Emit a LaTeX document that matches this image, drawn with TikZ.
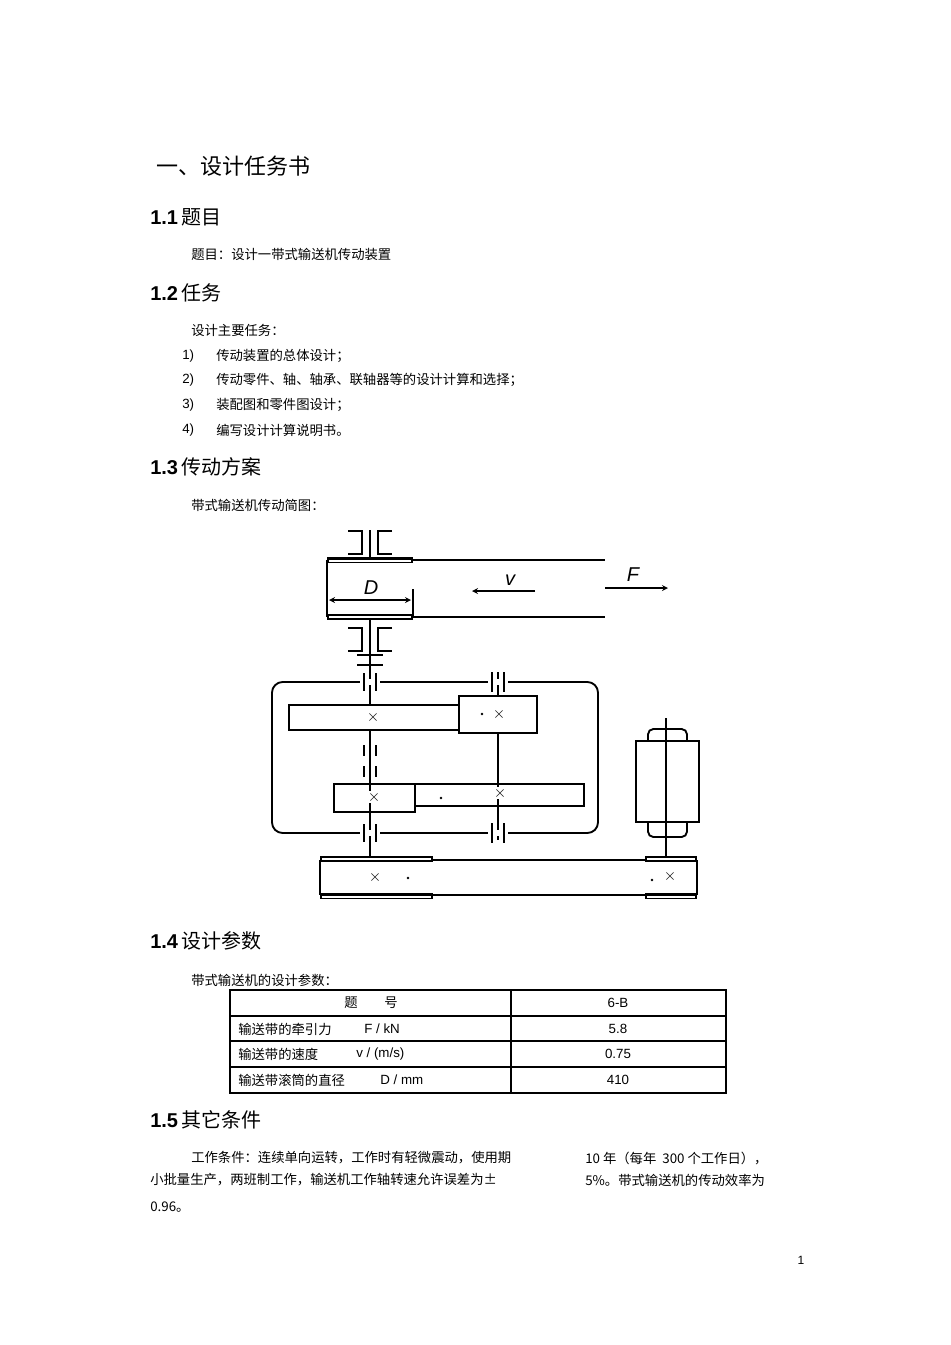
\documentclass[tikz,border=0pt]{standalone}
\usepackage{fontspec}
\setmainfont{Liberation Sans}
\newfontfamily\cjk{Noto Sans CJK SC}
\begin{document}
\begin{tikzpicture}[x=0.75pt,y=-0.75pt,
  body/.style={anchor=west,inner sep=0pt,font=\cjk\fontsize{10}{12}\selectfont},
  head/.style={anchor=west,inner sep=0pt,font=\fontsize{15}{18}\selectfont},
  ln/.style={line width=1.4pt},
  thin/.style={line width=1pt}]
\useasboundingbox (0,0) rectangle (950,1345);
\fill[white] (0,0) rectangle (950,1345);
% ---------- text ----------
\node[anchor=west,inner sep=0pt,font=\cjk\fontsize{16.5}{20}\selectfont] (t0) at (156,166) {一、设计任务书};
\node[head] (h1) at (150,217) {\textbf{1.1}\,{\cjk 题目}};
\node[body] (p1) at (191,254) {题目：设计一带式输送机传动装置};
\node[head] (h2) at (150,293) {\textbf{1.2}\,{\cjk 任务}};
\node[body] (p2) at (191,330) {设计主要任务：};
\foreach \n/\yy/\s in {1/356/传动装置的总体设计；,2/380/传动零件、轴、轴承、联轴器等的设计计算和选择；,3/405/装配图和零件图设计；,4/430/编写设计计算说明书。}{
  \node[anchor=west,inner sep=0pt,font=\fontsize{10}{12}\selectfont] (n\n) at (182,\yy) {\n)};
  \node[body] (i\n) at (216,\yy) {\s};
}
\node[head] (h3) at (150,467) {\textbf{1.3}\,{\cjk 传动方案}};
\node[body] (p3) at (191,505) {带式输送机传动简图：};
\node[head] (h4) at (150,941) {\textbf{1.4}\,{\cjk 设计参数}};
\node[body] (p4) at (191,980) {带式输送机的设计参数：};
% table
\draw[thin] (230,990) rectangle (726,1093);
\foreach \yy in {1016,1041,1067} \draw[thin] (230,\yy) -- (726,\yy);
\draw[thin] (511,990) -- (511,1093);
\node[body,anchor=center] (c1) at (371,1003) {题\hspace{2em}号};
\node[anchor=center,font=\fontsize{10}{12}\selectfont] (d1) at (618,1003) {6-B};
\node[body] (c2) at (238,1029) {输送带的牵引力};
\node[anchor=west,inner sep=0pt,font=\fontsize{10}{12}\selectfont] (e2) at (364,1029) {F / kN};
\node[anchor=center,font=\fontsize{10}{12}\selectfont] (d2) at (618,1029) {5.8};
\node[body] (c3) at (238,1054) {输送带的速度};
\node[anchor=west,inner sep=0pt,font=\fontsize{10}{12}\selectfont] (e3) at (356,1054) {v / (m/s)};
\node[anchor=center,font=\fontsize{10}{12}\selectfont] (d3) at (618,1054) {0.75};
\node[body] (c4) at (238,1080) {输送带滚筒的直径};
\node[anchor=west,inner sep=0pt,font=\fontsize{10}{12}\selectfont] (e4) at (380,1080) {D / mm};
\node[anchor=center,font=\fontsize{10}{12}\selectfont] (d4) at (618,1080) {410};
\node[head] (h5) at (150,1120) {\textbf{1.5}\,{\cjk 其它条件}};
\node[body] (q1) at (191,1158) {工作条件：连续单向运转，工作时有轻微震动，使用期};
\node[body] (q1b) at (585,1158) {10 年（每年\ \ 300 个工作日），};
\node[body] (q2) at (150,1180) {小批量生产，两班制工作，输送机工作轴转速允许误差为±};
\node[body] (q2b) at (585,1180) {5\%。带式输送机的传动效率为};
\node[body] (q3) at (150,1207) {0.96。};
\node[anchor=center,font=\fontsize{9}{11}\selectfont] (pg) at (801,1260) {1};
% ---------- diagram ----------
% drum
\draw[ln] (327,560) -- (605,560) (327,617) -- (605,617) (327,560) -- (327,617);
\fill (327,557) rectangle (413,563);
\fill (327,614) rectangle (413,620);
\fill[white] (329,559.5) rectangle (411,561.5);
\fill[white] (329,615.5) rectangle (411,617.5);
\draw[ln] (413,589) -- (413,617);
\coordinate (da) at (329,600); \coordinate (db) at (411,600);
\draw[thin,<->,>=stealth] (da) -- (db);
\node[font=\itshape\fontsize{15}{18}\selectfont] (D) at (371,588) {D};
\coordinate (va) at (535,591); \coordinate (vb) at (472,591);
\draw[thin,->,>=stealth] (va) -- (vb);
\node[font=\itshape\fontsize{15}{18}\selectfont] (v) at (510,580) {v};
\coordinate (fa) at (605,588); \coordinate (fb) at (668,588);
\draw[thin,->,>=stealth] (fa) -- (fb);
\node[font=\itshape\fontsize{15}{18}\selectfont] (F) at (633,575) {F};
% shaft 1
\draw[ln] (370,530) -- (370,558);
\draw[ln] (370,620) -- (370,858);
% bearings
\foreach \t in {531,628}{
  \draw[ln] (348,\t) -- (362,\t) -- (362,\t+23) -- (348,\t+23);
  \draw[ln] (392,\t) -- (378,\t) -- (378,\t+23) -- (392,\t+23);
}
% coupling
\draw[ln] (357,655) -- (383,655) (357,665) -- (383,665);
% housing
\draw[ln,rounded corners=8pt] (272,682) rectangle (598,833);
% shaft 2
\draw[ln] (498,672) -- (498,840);
% housing bearings
\foreach \yy in {682,833}{
  \fill[white] (360,\yy-3) rectangle (380,\yy+3);
  \draw[ln] (364,\yy-9) -- (364,\yy+9) (376,\yy-9) -- (376,\yy+9);
  \fill[white] (488,\yy-3) rectangle (508,\yy+3);
  \draw[ln] (492,\yy-10) -- (492,\yy+10) (504,\yy-10) -- (504,\yy+10);
}
\draw[ln] (364,745) -- (364,756) (376,745) -- (376,756);
\draw[ln] (364,766) -- (364,777) (376,766) -- (376,777);
% gears
\draw[ln,fill=white] (289,705) rectangle (460,730);
\draw[ln,fill=white] (459,696) rectangle (537,733);
\draw[ln,fill=white] (415,784) rectangle (584,806);
\draw[ln,fill=white] (334,784) rectangle (415,812);
\draw[ln] (370,784) -- (370,812);
\draw[ln] (498,784) -- (498,806);
\foreach \p in {(373,717),(499,714),(374,797),(500,793),(375,877),(670,876)}{
  \node[font=\fontsize{13}{13}\selectfont,fill=white,inner sep=0.5pt] at \p {$\times$};
}
\fill (482,714) circle (1pt);
\fill (441,798) circle (1pt);
% bottom belt
\draw[ln] (320,860) -- (697,860) (320,895) -- (697,895) (320,860) -- (320,895) (697,860) -- (697,895);
\fill (320,856) rectangle (433,862);
\fill (320,893) rectangle (433,899);
\fill (645,856) rectangle (697,862);
\fill (645,893) rectangle (697,899);
\fill[white] (322,857.5) rectangle (431,859.5);
\fill[white] (322,895.5) rectangle (431,897.5);
\fill[white] (647,857.5) rectangle (695,859.5);
\fill[white] (647,895.5) rectangle (695,897.5);
\fill (408,878) circle (1pt);
\fill (652,880) circle (1pt);
% motor
\draw[ln,rounded corners=4pt] (648,741) -- (648,729) -- (687,729) -- (687,741);
\draw[ln] (636,741) rectangle (699,822);
\draw[ln,rounded corners=4pt] (648,822) -- (648,837) -- (687,837) -- (687,822);
\draw[thin] (666,718) -- (666,858);
\end{tikzpicture}
\end{document}
